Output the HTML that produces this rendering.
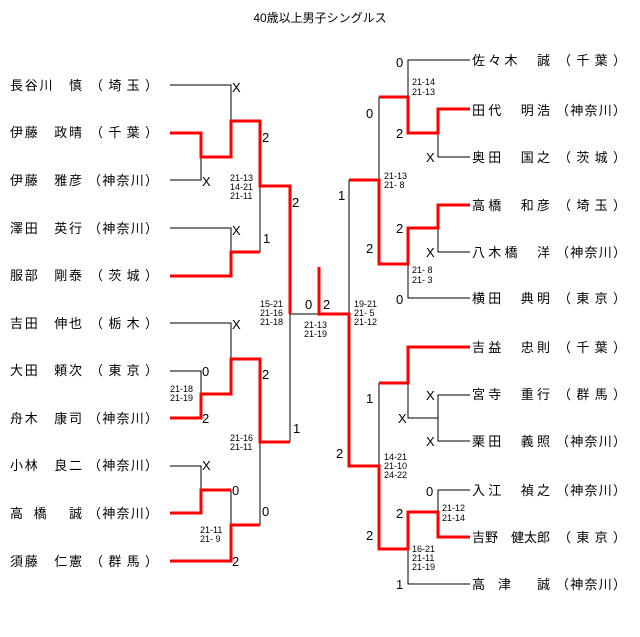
<!DOCTYPE html>
<html><head><meta charset="utf-8"><style>
html,body{margin:0;padding:0;background:#fff;}
svg{display:block;font-family:"Liberation Sans","Noto Sans CJK JP",sans-serif;}
.n{font-size:13px;fill:#000;}
.s{font-size:9px;fill:#000;}
.d{font-size:13px;fill:#000;}
</style></head><body>
<svg width="640" height="637" viewBox="0 0 640 637">
<text x="320" y="22" text-anchor="middle" style="font-size:12px">40歳以上男子シングルス</text>
<g class="n">
<text x="10" y="90" textLength="72" lengthAdjust="spacing">長谷川　慎</text><text x="90" y="90" textLength="68" lengthAdjust="spacing">（埼玉）</text>
<text x="10" y="137" textLength="72" lengthAdjust="spacing">伊藤　政晴</text><text x="90" y="137" textLength="68" lengthAdjust="spacing">（千葉）</text>
<text x="10" y="185" textLength="72" lengthAdjust="spacing">伊藤　雅彦</text><text x="88" y="185" textLength="70" lengthAdjust="spacing">（神奈川）</text>
<text x="10" y="233" textLength="72" lengthAdjust="spacing">澤田　英行</text><text x="88" y="233" textLength="70" lengthAdjust="spacing">（神奈川）</text>
<text x="10" y="280" textLength="72" lengthAdjust="spacing">服部　剛泰</text><text x="90" y="280" textLength="68" lengthAdjust="spacing">（茨城）</text>
<text x="10" y="328" textLength="72" lengthAdjust="spacing">吉田　伸也</text><text x="90" y="328" textLength="68" lengthAdjust="spacing">（栃木）</text>
<text x="10" y="375" textLength="72" lengthAdjust="spacing">大田　頼次</text><text x="90" y="375" textLength="68" lengthAdjust="spacing">（東京）</text>
<text x="10" y="423" textLength="72" lengthAdjust="spacing">舟木　康司</text><text x="88" y="423" textLength="70" lengthAdjust="spacing">（神奈川）</text>
<text x="10" y="470" textLength="72" lengthAdjust="spacing">小林　良二</text><text x="88" y="470" textLength="70" lengthAdjust="spacing">（神奈川）</text>
<text x="10" y="518" textLength="72" lengthAdjust="spacing">高　橋　　誠</text><text x="88" y="518" textLength="70" lengthAdjust="spacing">（神奈川）</text>
<text x="10" y="566" textLength="72" lengthAdjust="spacing">須藤　仁憲</text><text x="90" y="566" textLength="68" lengthAdjust="spacing">（群馬）</text>

<text x="472" y="65" textLength="78" lengthAdjust="spacing">佐々木　誠</text><text x="558" y="65" textLength="68" lengthAdjust="spacing">（千葉）</text>
<text x="472" y="115" textLength="78" lengthAdjust="spacing">田代　明浩</text><text x="556" y="115" textLength="70" lengthAdjust="spacing">（神奈川）</text>
<text x="472" y="162" textLength="78" lengthAdjust="spacing">奥田　国之</text><text x="558" y="162" textLength="68" lengthAdjust="spacing">（茨城）</text>
<text x="472" y="210" textLength="78" lengthAdjust="spacing">高橋　和彦</text><text x="558" y="210" textLength="68" lengthAdjust="spacing">（埼玉）</text>
<text x="472" y="257" textLength="78" lengthAdjust="spacing">八木橋　洋</text><text x="556" y="257" textLength="70" lengthAdjust="spacing">（神奈川）</text>
<text x="472" y="303" textLength="78" lengthAdjust="spacing">横田　典明</text><text x="558" y="303" textLength="68" lengthAdjust="spacing">（東京）</text>
<text x="472" y="352" textLength="78" lengthAdjust="spacing">吉益　忠則</text><text x="558" y="352" textLength="68" lengthAdjust="spacing">（千葉）</text>
<text x="472" y="399" textLength="78" lengthAdjust="spacing">宮寺　重行</text><text x="558" y="399" textLength="68" lengthAdjust="spacing">（群馬）</text>
<text x="472" y="446" textLength="78" lengthAdjust="spacing">栗田　義照</text><text x="556" y="446" textLength="70" lengthAdjust="spacing">（神奈川）</text>
<text x="472" y="495" textLength="78" lengthAdjust="spacing">入江　禎之</text><text x="556" y="495" textLength="70" lengthAdjust="spacing">（神奈川）</text>
<text x="472" y="542" textLength="78" lengthAdjust="spacing">吉野　健太郎</text><text x="558" y="542" textLength="68" lengthAdjust="spacing">（東京）</text>
<text x="472" y="589" textLength="78" lengthAdjust="spacing">高　津　　誠</text><text x="556" y="589" textLength="70" lengthAdjust="spacing">（神奈川）</text>
</g>

<g stroke="#000" stroke-width="1" fill="none">
<polyline points="170,85 231,85 231,121"/>
<polyline points="170,180 201,180 201,157"/>
<polyline points="170,228 231,228 231,252"/>
<line x1="260" y1="186" x2="260" y2="252"/>
<polyline points="170,323 231,323 231,359"/>
<polyline points="170,371 201,371 201,394"/>
<polyline points="170,466 201,466 201,490"/>
<line x1="231" y1="490" x2="231" y2="525"/>
<line x1="260" y1="442" x2="260" y2="525"/>
<polyline points="290,442 290,314 319,314"/>
<line x1="349" y1="180" x2="349" y2="314"/>
<polyline points="470,60 408,60 408,97"/>
<polyline points="470,157 438,157 438,133"/>
<line x1="379" y1="97" x2="379" y2="180"/>
<polyline points="470,252 438,252 438,228"/>
<polyline points="408,264 408,298 470,298"/>
<line x1="379" y1="383" x2="379" y2="466"/>
<polyline points="408,383 408,418 438,418"/>
<polyline points="470,395 438,395 438,441 470,441"/>
<polyline points="470,490 438,490 438,512"/>
<polyline points="408,549 408,584 470,584"/>
</g>

<g stroke="#f00" stroke-width="3" fill="none" stroke-linejoin="miter">
<polyline points="170,133 201,133 201,157 231,157 231,121 260,121 260,186 290,186 290,314"/>
<polyline points="170,276 231,276 231,252 260,252"/>
<polyline points="170,418 201,418 201,394 231,394 231,359 260,359 260,442 290,442"/>
<polyline points="170,513 201,513 201,490 231,490"/>
<polyline points="170,561 231,561 231,525 260,525"/>
<polyline points="319,267 319,314 349,314 349,466 379,466 379,549 408,549 408,512 438,512 438,537 470,537"/>
<polyline points="349,180 379,180 379,264 408,264 408,228 438,228 438,205 470,205"/>
<polyline points="379,97 408,97 408,133 438,133 438,109 470,109"/>
<polyline points="379,383 408,383 408,347 470,347"/>
</g>

<g class="d">
<text x="232" y="92">X</text>
<text x="262" y="142">2</text>
<text x="202" y="186">X</text>
<text x="292" y="207">2</text>
<text x="232" y="235">X</text>
<text x="263" y="243">1</text>
<text x="232" y="329">X</text>
<text x="202" y="376">0</text>
<text x="262" y="379">2</text>
<text x="202" y="423">2</text>
<text x="293" y="433">1</text>
<text x="202" y="470">X</text>
<text x="232" y="495">0</text>
<text x="262" y="516">0</text>
<text x="232" y="566">2</text>
<text x="305" y="309">0</text>
<text x="323" y="309">2</text>
<text x="396" y="67">0</text>
<text x="366" y="118">0</text>
<text x="396" y="138">2</text>
<text x="426" y="162">X</text>
<text x="338" y="200">1</text>
<text x="396" y="233">2</text>
<text x="366" y="253">2</text>
<text x="426" y="257">X</text>
<text x="396" y="304">0</text>
<text x="366" y="403">1</text>
<text x="426" y="400">X</text>
<text x="398" y="423">X</text>
<text x="426" y="446">X</text>
<text x="336" y="458">2</text>
<text x="426" y="496">0</text>
<text x="396" y="518">2</text>
<text x="366" y="540">2</text>
<text x="396" y="589">1</text>
</g>

<g class="s">
<text x="230" y="181">21-13</text><text x="230" y="190">14-21</text><text x="230" y="199">21-11</text>
<text x="260" y="307">15-21</text><text x="260" y="316">21-16</text><text x="260" y="325">21-18</text>
<text x="304" y="328">21-13</text><text x="304" y="337">21-19</text>
<text x="354" y="307">19-21</text><text x="354" y="316">21- 5</text><text x="354" y="325">21-12</text>
<text x="170" y="392">21-18</text><text x="170" y="401">21-19</text>
<text x="230" y="441">21-16</text><text x="230" y="450">21-11</text>
<text x="200" y="533">21-11</text><text x="200" y="542">21- 9</text>
<text x="412" y="85">21-14</text><text x="412" y="95">21-13</text>
<text x="384" y="179">21-13</text><text x="384" y="188">21- 8</text>
<text x="412" y="273">21- 8</text><text x="412" y="283">21- 3</text>
<text x="384" y="460">14-21</text><text x="384" y="469">21-10</text><text x="384" y="478">24-22</text>
<text x="442" y="511">21-12</text><text x="442" y="521">21-14</text>
<text x="412" y="552">16-21</text><text x="412" y="561">21-11</text><text x="412" y="570">21-19</text>
</g>
</svg>
</body></html>
